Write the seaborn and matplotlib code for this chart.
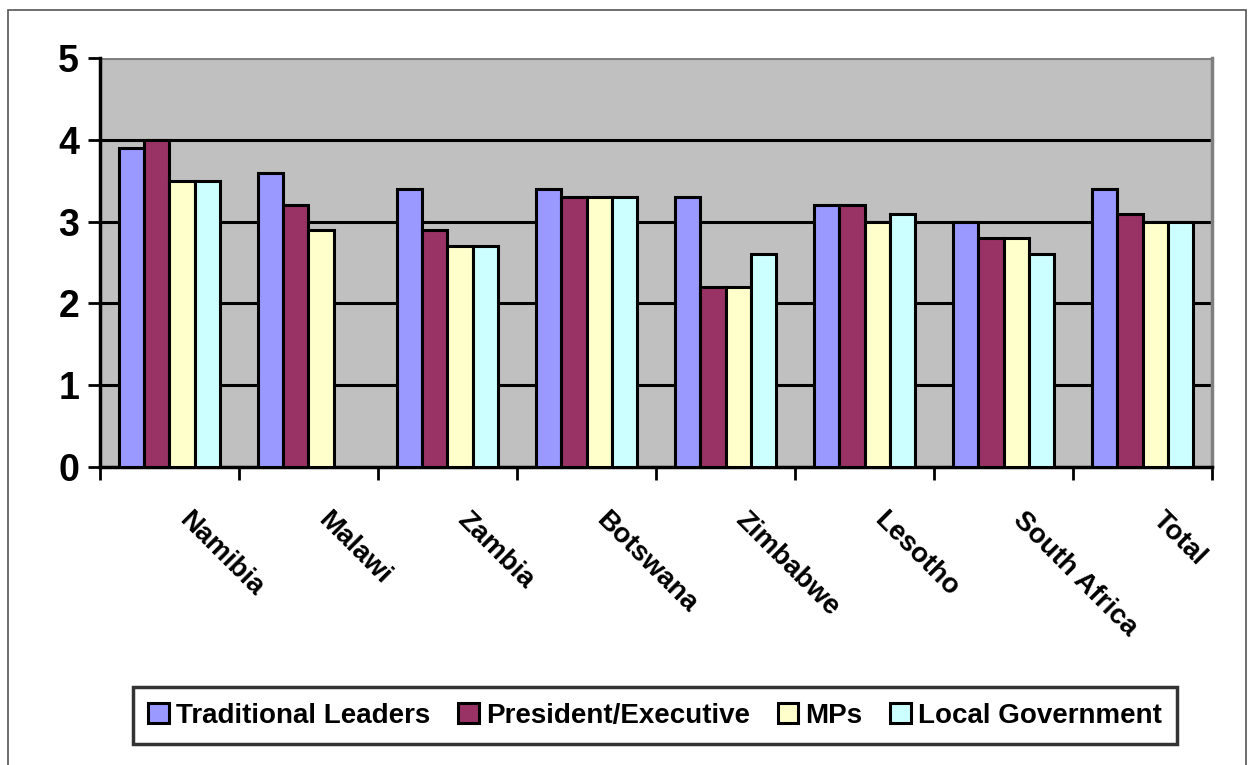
import numpy as np
import pandas as pd
import seaborn as sns
import matplotlib.pyplot as plt
import matplotlib.transforms as mtransforms
from matplotlib.patches import Rectangle

sns.set_style("white")
plt.rcParams['font.family'] = ['Liberation Sans', 'DejaVu Sans']
plt.rcParams['font.weight'] = 'bold'
plt.rcParams['text.color'] = 'black'
plt.rcParams['xtick.color'] = 'black'
plt.rcParams['ytick.color'] = 'black'

# Data
countries = ["Namibia", "Malawi", "Zambia", "Botswana", "Zimbabwe",
             "Lesotho", "South Africa", "Total"]
traditional = [3.9, 3.6, 3.4, 3.4, 3.3, 3.2, 3.0, 3.4]
president = [4.0, 3.2, 2.9, 3.3, 2.2, 3.2, 2.8, 3.1]
mps = [3.5, 2.9, 2.7, 3.3, 2.2, 3.0, 2.8, 3.0]
local_gov = [3.5, np.nan, 2.7, 3.3, 2.6, 3.1, 2.6, 3.0]
series = ["Traditional Leaders", "President/Executive", "MPs", "Local Government"]
colors = ["#9999FF", "#993366", "#FFFFCC", "#CCFFFF"]

df = pd.DataFrame({
    "country": countries * 4,
    "group": [s for s in series for _ in countries],
    "value": traditional + president + mps + local_gov,
})

fig = plt.figure(figsize=(12.56, 7.65), dpi=100)
ax = fig.add_axes([0.0796, 0.3895, 0.8854, 0.5345])
ax.set_facecolor("#C0C0C0")

sns.barplot(data=df, x="country", y="value", hue="group", hue_order=series,
            palette=colors, width=0.73, gap=0, edgecolor="black",
            linewidth=2.2, saturation=1, ax=ax, legend=True, zorder=3)

ax.set_ylim(0, 5)
ax.set_xlim(-0.5, len(countries) - 0.5)
ax.set_yticks([0, 1, 2, 3, 4, 5])
ax.set_yticklabels(["0", "1", "2", "3", "4", "5"], fontsize=27, fontweight="bold",
                   color="black")
for yv in [1, 2, 3, 4]:
    ax.axhline(yv, color="black", lw=2.2, zorder=1)
ax.axhline(5, color="#808080", lw=3, zorder=1)

# boundary ticks on x, labels at centres
ax.set_xticks(np.arange(-0.5, len(countries)), labels=[""] * (len(countries) + 1))
ax.set_xticks(np.arange(len(countries)), minor=True)
ax.set_xticklabels(countries, minor=True, rotation=-45, ha="left", va="top",
                   rotation_mode="anchor", fontsize=20, fontweight="bold",
                   color="black")
ax.tick_params(axis="x", which="major", length=9, width=2, color="black", direction="out", bottom=True)
ax.tick_params(axis="x", which="minor", length=0, pad=0)
ax.tick_params(axis="y", length=9, width=2, color="black", direction="out", left=True, pad=6)
offset = mtransforms.ScaledTranslation(23 / 100, -40 / 100, fig.dpi_scale_trans)
for lab in ax.get_xticklabels(minor=True):
    lab.set_transform(lab.get_transform() + offset)

ax.set_xlabel("")
ax.set_ylabel("")
for side in ["left", "bottom"]:
    ax.spines[side].set_color("black")
    ax.spines[side].set_linewidth(2.5)
ax.spines["top"].set_visible(False)
ax.spines["right"].set_color("#808080")
ax.spines["right"].set_linewidth(2.5)

handles, labels = ax.get_legend_handles_labels()
ax.legend_.remove()
leg = fig.legend(handles, labels, loc="center", bbox_to_anchor=(0.5215, 0.0645),
                 ncol=4, frameon=True, fancybox=False, edgecolor="black",
                 handlelength=0.75, handleheight=0.75, handletextpad=0.25,
                 columnspacing=1.0, borderpad=0.55,
                 prop={"weight": "bold", "size": 20})
leg.get_frame().set_linewidth(2.5)

# outer border of the chart
fig.add_artist(Rectangle((0.0064, -0.01), 0.986, 0.997, transform=fig.transFigure,
                         fill=False, edgecolor="#555555", lw=1.2))

fig.savefig("out.png", dpi=100)
